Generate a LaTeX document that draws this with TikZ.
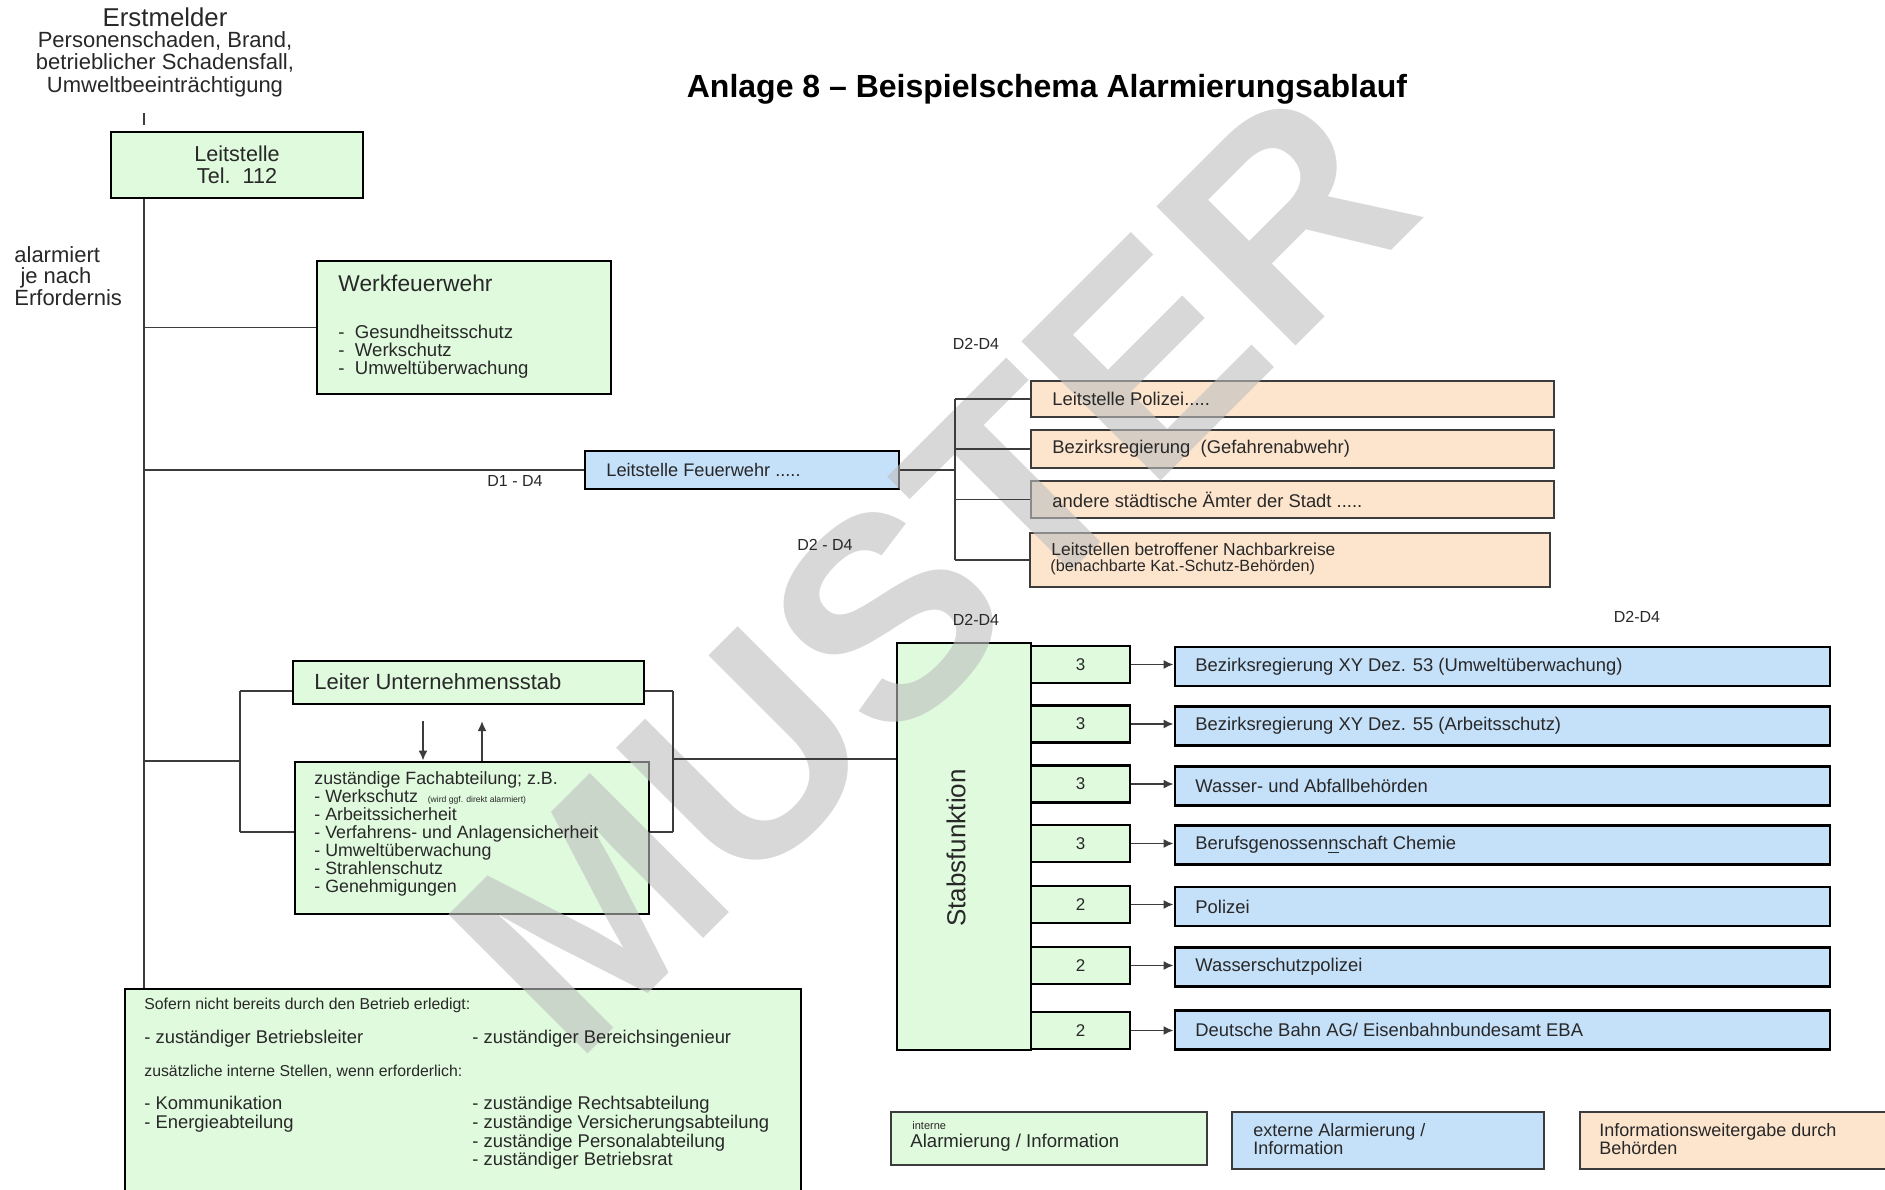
\documentclass[tikz,border=0pt]{standalone}
\usepackage{fontspec}
\setmainfont{Liberation Sans}
\usetikzlibrary{arrows.meta,calc}
\definecolor{gfill}{RGB}{224,250,222}
\definecolor{bfill}{RGB}{197,224,249}
\definecolor{ofill}{RGB}{252,228,205}
\definecolor{ln}{RGB}{60,60,60}
\definecolor{tx}{RGB}{40,40,40}
\definecolor{wm}{RGB}{190,190,190}
\newcommand\fs[2]{\fontsize{#1}{#2}\selectfont}
\begin{document}
\begin{tikzpicture}[x=0.5pt,y=-0.5pt,
  gbox/.style={draw=black, line width=1.4pt, fill=gfill, inner sep=0pt},
  bbox/.style={draw=black, line width=1.4pt, fill=bfill, inner sep=0pt},
  obox/.style={draw=ln, line width=0.9pt, fill=ofill, inner sep=0pt},
  lgbox/.style={draw=ln, line width=0.8pt, inner sep=0pt},
  conn/.style={draw=ln, line width=0.9pt},
  arr/.style={conn, -{Latex[length=5pt,width=4.5pt]}},
  lbl/.style={inner sep=0pt, text=tx, anchor=west, align=left},
  dlbl/.style={inner sep=0pt, text=tx, font={\fs{8}{9}}}]
\useasboundingbox (0,0) rectangle (1885,1189);
\fill[white] (0,0) rectangle (1885,1189);

% ---------- boxes ----------
\node[gbox, minimum width=126pt, minimum height=33pt, align=center, text=tx, font={\fs{10.8}{11}}] (leit) at (237,165) {Leitstelle\\Tel.\ \ 112};
\node[gbox, minimum width=147pt, minimum height=66.5pt] (werk) at (464,327.5) {};
\node[bbox, minimum width=157pt, minimum height=19pt] (lfw) at (742,470) {};
\node[obox, minimum width=261.5pt, minimum height=18pt] (o1) at (1292.5,399) {};
\node[obox, minimum width=261.5pt, minimum height=19pt] (o2) at (1292.5,449) {};
\node[obox, minimum width=261.5pt, minimum height=18.5pt] (o3) at (1292.5,499.5) {};
\node[obox, minimum width=260pt, minimum height=27pt] (o4) at (1290,560) {};
\node[gbox, minimum width=175.5pt, minimum height=21.5pt] (leiter) at (468.5,682.5) {};
\node[gbox, minimum width=177pt, minimum height=76pt] (fach) at (472,838) {};
\node[gbox, minimum width=67pt, minimum height=203.5pt] (stab) at (964,846.5) {};
\node[gbox, minimum width=338pt, minimum height=110pt] (unten) at (463,1099) {};
\node[lgbox, fill=gfill, minimum width=158pt, minimum height=26.5pt] (lg1) at (1049,1138.5) {};
\node[lgbox, fill=bfill, minimum width=156pt, minimum height=28.5pt] (lg2) at (1388,1140.5) {};
\node[lgbox, fill=ofill, minimum width=160pt, minimum height=28.5pt] (lg3) at (1740,1140.5) {};

\foreach \i/\ny/\by/\num/\txt in {
  1/664.5/666.5/3/{Bezirksregierung XY Dez. 53 (Umweltüberwachung)},
  2/724/726/3/{Bezirksregierung XY Dez. 55 (Arbeitsschutz)},
  3/784/786/3/{Wasser- und Abfallbehörden},
  4/843.5/845/3/{Berufsgenossen\underline{n}schaft Chemie},
  5/904.5/906.5/2/{Polizei},
  6/965.5/967/2/{Wasserschutzpolizei},
  7/1030.5/1030/2/{Deutsche Bahn AG/ Eisenbahnbundesamt EBA}}{
  \node[gbox, minimum width=49.5pt, minimum height=18.5pt, text=tx, font={\fs{8.5}{9}}] (n\i) at (1080.5,\ny) {\num};
  \node[bbox, minimum width=327.5pt, minimum height=19.5pt] (b\i) at (1502.5,\by) {};
  \node[lbl, font={\fs{9.2}{10}}] (bt\i) at (1195,\by) {\txt};
}

% ---------- watermark ----------
\node[rotate=45, text=wm, opacity=0.6, inner sep=0pt, font={\fs{143}{143}\bfseries}] (wmk) at (932,571) {MUSTER};

% ---------- connectors ----------
\coordinate (main) at (144,0);
\coordinate (tickA) at (144,113);
\coordinate (tickB) at (144,125);
\draw[conn] (tickA) -- (tickB);
\draw[conn] (main |- leit.south) -- (main |- unten.north);
\draw[conn] (main |- werk.west) -- (werk.west);
\draw[conn] (main |- lfw.west) -- (lfw.west);
\coordinate (bus) at (955,0);
\draw[conn] (lfw.east) -- (lfw.east -| bus);
\draw[conn] (bus |- o1.west) -- (bus |- o4.west);
\foreach \k in {1,2,3,4} { \draw[conn] (bus |- o\k.west) -- (o\k.west); }
% bracket left
\coordinate (lb) at (240,761);
\coordinate (lbt) at (240,691);
\coordinate (lbb) at (240,832);
\draw[conn] (main |- lb) -- (lb);
\draw[conn] (lbt) -- (lbb);
\draw[conn] (lbt) -- (lbt -| leiter.west);
\draw[conn] (lbb) -- (lbb -| fach.west);
% bracket right
\coordinate (rb) at (673,759);
\coordinate (rbt) at (673,691);
\coordinate (rbb) at (673,832);
\draw[conn] (rbt) -- (rbb);
\draw[conn] (rbt) -- (rbt -| leiter.east);
\draw[conn] (rbb) -- (rbb -| fach.east);
\draw[conn] (rb) -- (rb -| stab.west);
% arrows between Leiter and Fachabteilung
\coordinate (ad) at (423,721);
\coordinate (au) at (482,721);
\draw[arr] (ad) -- (ad |- fach.north);
\draw[arr] (au |- fach.north) -- (au);
\foreach \i in {1,...,7} { \draw[arr] (n\i.east) -- (n\i.east -| b\i.west); }

% ---------- texts ----------
\node[inner sep=0pt, text=tx, font={\fs{12.9}{14}}] (erst1) at (165,17) {Erstmelder};
\node[inner sep=0pt, text=tx, align=center, font={\fs{11}{11.3}}] (erst2) at (165,64) {Personenschaden, Brand,\\betrieblicher Schadensfall,\\Umweltbeeinträchtigung};
\node[inner sep=0pt, text=black, font={\fs{16}{18}\bfseries}] (title) at (1047,89) {Anlage 8 -- Beispielschema Alarmierungsablauf};
\node[lbl, font={\fs{11}{10.8}}] (alarm) at (14,276) {alarmiert\\\ je nach\\Erfordernis};
\node[lbl, font={\fs{11.4}{12}}] (werkt) at (338,283) {Werkfeuerwehr};
\node[lbl, font={\fs{9.3}{9}}] (werkl) at (338,352) {-\ \ Gesundheitsschutz\\-\ \ Werkschutz\\-\ \ Umweltüberwachung};
\node[lbl, font={\fs{9.1}{10}}] (lfwt) at (606,470) {Leitstelle Feuerwehr .....};
\node[lbl, font={\fs{9.2}{10}}] (o1t) at (1052,399) {Leitstelle Polizei.....};
\node[lbl, font={\fs{9.2}{10}}] (o2t) at (1052,449) {Bezirksregierung\ \ (Gefahrenabwehr)};
\node[lbl, font={\fs{9.2}{10}}] (o3t) at (1052,499.5) {andere städtische Ämter der Stadt .....};
\node[lbl, font={\fs{8.7}{9}}] (o4t) at (1051,549) {Leitstellen betroffener Nachbarkreise};
\node[lbl, font={\fs{8.1}{9}}] (o4u) at (1050,567) {(benachbarte Kat.-Schutz-Behörden)};
\node[dlbl] (dA) at (976,344) {D2-D4};
\node[dlbl] (dB) at (515,481) {D1 - D4};
\node[dlbl] (dC) at (825,545) {D2 - D4};
\node[dlbl] (dD) at (976,620) {D2-D4};
\node[dlbl] (dE) at (1637,617) {D2-D4};
\node[lbl, font={\fs{11}{12}}] (leitert) at (314,682) {Leiter Unternehmensstab};
\node[lbl, font={\fs{8.9}{9}}] (facht) at (314,834) {zuständige Fachabteilung; z.B.\\- Werkschutz \ {\fs{4.3}{5}(wird ggf. direkt alarmiert)}\\- Arbeitssicherheit\\- Verfahrens- und Anlagensicherheit\\- Umweltüberwachung\\- Strahlenschutz\\- Genehmigungen};
\node[rotate=90, inner sep=0pt, text=tx, font={\fs{13}{14}}] (stabt) at (956,848) {Stabsfunktion};
\node[lbl, font={\fs{7.9}{9}}] (u1) at (144,1005) {Sofern nicht bereits durch den Betrieb erledigt:};
\node[lbl, font={\fs{9.2}{10}}] (u2) at (144,1039) {- zuständiger Betriebsleiter};
\node[lbl, font={\fs{9.2}{10}}] (u3) at (472,1039) {- zuständiger Bereichsingenieur};
\node[lbl, font={\fs{7.9}{9}}] (u4) at (144,1072) {zusätzliche interne Stellen, wenn erforderlich:};
\node[lbl, font={\fs{9.2}{9.5}}] (u5) at (144,1114.5) {- Kommunikation\\- Energieabteilung};
\node[lbl, font={\fs{9.2}{9.35}}] (u6) at (472,1133) {- zuständige Rechtsabteilung\\- zuständige Versicherungsabteilung\\- zuständige Personalabteilung\\- zuständiger Betriebsrat};
\node[lbl, font={\fs{5.5}{6}}] (lg1a) at (912,1126) {interne};
\node[lbl, font={\fs{9.3}{10}}] (lg1b) at (910,1143) {Alarmierung / Information};
\node[lbl, font={\fs{9}{9}}] (lg2t) at (1253,1139) {externe Alarmierung /\\Information};
\node[lbl, font={\fs{9}{9}}] (lg3t) at (1599,1139) {Informationsweitergabe durch\\Behörden};
\end{tikzpicture}
\end{document}
